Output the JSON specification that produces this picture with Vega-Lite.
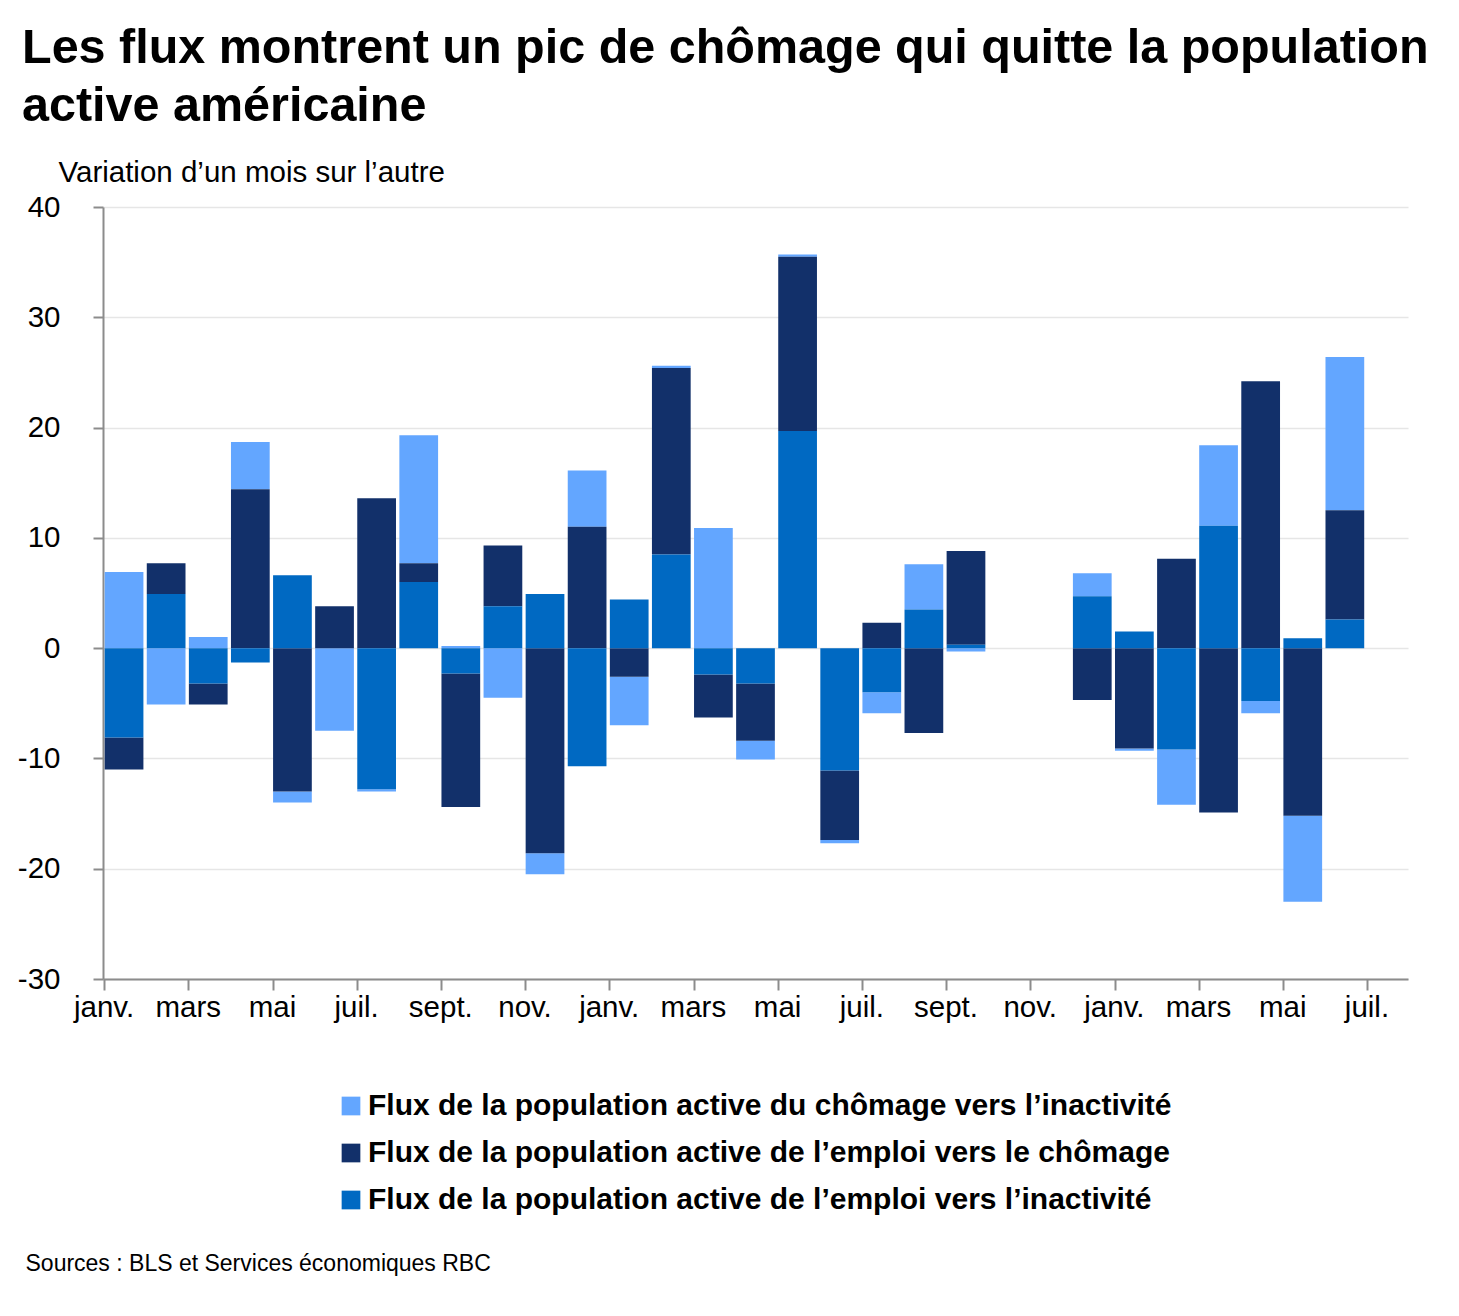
{
  "$schema": "https://vega.github.io/schema/vega-lite/v6.json",
  "autosize": {"type": "none"},
  "width": 1305,
  "height": 772,
  "padding": {"left": 103, "top": 207, "right": 51, "bottom": 337},
  "background": "white",
  "config": {
    "font": "Liberation Sans",
    "view": {"stroke": null}
  },
  "title": {
    "text": ["Les flux montrent un pic de chômage qui quitte la population", "active américaine"],
    "anchor": "start",
    "frame": "group",
    "baseline": "alphabetic",
    "dx": -81,
    "dy": 32,
    "offset": 20,
    "fontSize": 48.5,
    "fontWeight": "bold",
    "lineHeight": 58,
    "color": "black"
  },
  "data": {
    "values": [
      {"mois": 1, "chomage_inactivite": 6.9, "emploi_chomage": -2.9, "emploi_inactivite": -8.1},
      {"mois": 2, "chomage_inactivite": -5.1, "emploi_chomage": 2.8, "emploi_inactivite": 4.9},
      {"mois": 3, "chomage_inactivite": 1.0, "emploi_chomage": -1.9, "emploi_inactivite": -3.2},
      {"mois": 4, "chomage_inactivite": 4.3, "emploi_chomage": 14.4, "emploi_inactivite": -1.3},
      {"mois": 5, "chomage_inactivite": -1.0, "emploi_chomage": -13.0, "emploi_inactivite": 6.6},
      {"mois": 6, "chomage_inactivite": -7.5, "emploi_chomage": 3.8, "emploi_inactivite": 0},
      {"mois": 7, "chomage_inactivite": -0.2, "emploi_chomage": 13.6, "emploi_inactivite": -12.8},
      {"mois": 8, "chomage_inactivite": 11.6, "emploi_chomage": 1.7, "emploi_inactivite": 6.0},
      {"mois": 9, "chomage_inactivite": 0.2, "emploi_chomage": -12.1, "emploi_inactivite": -2.3},
      {"mois": 10, "chomage_inactivite": -4.5, "emploi_chomage": 5.5, "emploi_inactivite": 3.8},
      {"mois": 11, "chomage_inactivite": -1.9, "emploi_chomage": -18.6, "emploi_inactivite": 4.9},
      {"mois": 12, "chomage_inactivite": 5.1, "emploi_chomage": 11.0, "emploi_inactivite": -10.7},
      {"mois": 13, "chomage_inactivite": -4.4, "emploi_chomage": -2.6, "emploi_inactivite": 4.4},
      {"mois": 14, "chomage_inactivite": 0.2, "emploi_chomage": 16.9, "emploi_inactivite": 8.5},
      {"mois": 15, "chomage_inactivite": 10.9, "emploi_chomage": -3.9, "emploi_inactivite": -2.4},
      {"mois": 16, "chomage_inactivite": -1.7, "emploi_chomage": -5.2, "emploi_inactivite": -3.2},
      {"mois": 17, "chomage_inactivite": 0.2, "emploi_chomage": 15.8, "emploi_inactivite": 19.7},
      {"mois": 18, "chomage_inactivite": -0.3, "emploi_chomage": -6.3, "emploi_inactivite": -11.1},
      {"mois": 19, "chomage_inactivite": -1.9, "emploi_chomage": 2.3, "emploi_inactivite": -4.0},
      {"mois": 20, "chomage_inactivite": 4.1, "emploi_chomage": -7.7, "emploi_inactivite": 3.5},
      {"mois": 21, "chomage_inactivite": -0.3, "emploi_chomage": 8.5, "emploi_inactivite": 0.3},
      {"mois": 24, "chomage_inactivite": 2.1, "emploi_chomage": -4.7, "emploi_inactivite": 4.7},
      {"mois": 25, "chomage_inactivite": -0.2, "emploi_chomage": -9.1, "emploi_inactivite": 1.5},
      {"mois": 26, "chomage_inactivite": -5.0, "emploi_chomage": 8.1, "emploi_inactivite": -9.2},
      {"mois": 27, "chomage_inactivite": 7.3, "emploi_chomage": -14.9, "emploi_inactivite": 11.1},
      {"mois": 28, "chomage_inactivite": -1.1, "emploi_chomage": 24.2, "emploi_inactivite": -4.8},
      {"mois": 29, "chomage_inactivite": -7.8, "emploi_chomage": -15.2, "emploi_inactivite": 0.9},
      {"mois": 30, "chomage_inactivite": 13.9, "emploi_chomage": 9.9, "emploi_inactivite": 2.6}
    ]
  },
  "transform": [
    {"fold": ["chomage_inactivite", "emploi_chomage", "emploi_inactivite"], "as": ["flux", "valeur"]}
  ],
  "mark": {"type": "bar"},
  "encoding": {
    "x": {
      "field": "mois",
      "type": "ordinal",
      "scale": {
        "domain": [1, 2, 3, 4, 5, 6, 7, 8, 9, 10, 11, 12, 13, 14, 15, 16, 17, 18, 19, 20, 21, 22, 23, 24, 25, 26, 27, 28, 29, 30, 31],
        "paddingInner": 0.08,
        "paddingOuter": 0.04
      },
      "axis": {
        "values": [1, 3, 5, 7, 9, 11, 13, 15, 17, 19, 21, 23, 25, 27, 29, 31],
        "labelExpr": "['janv.', 'mars', 'mai', 'juil.', 'sept.', 'nov.'][((datum.value - 1) % 12) / 2]",
        "bandPosition": 0,
        "labelOffset": -20,
        "labelAngle": 0,
        "labelFontSize": 29.5,
        "labelColor": "black",
        "labelPadding": 3,
        "tickSize": 11,
        "tickColor": "#8c8c8c",
        "tickWidth": 2,
        "domainColor": "#8c8c8c",
        "domainWidth": 2,
        "grid": false,
        "title": "Sources : BLS et Services économiques RBC",
        "titleX": -78,
        "titleY": 291,
        "titleAlign": "left",
        "titleBaseline": "alphabetic",
        "titleFontSize": 23,
        "titleFontWeight": "normal",
        "titleColor": "black"
      }
    },
    "y": {
      "field": "valeur",
      "type": "quantitative",
      "stack": "zero",
      "scale": {"domain": [-30, 40], "nice": false},
      "axis": {
        "values": [-30, -20, -10, 0, 10, 20, 30, 40],
        "labelExpr": "'' + datum.value",
        "labelFontSize": 29.5,
        "labelColor": "black",
        "labelPadding": 33,
        "labelFlush": false,
        "labelOverlap": false,
        "tickSize": 10,
        "tickColor": "#8c8c8c",
        "tickWidth": 2,
        "domainColor": "#8c8c8c",
        "domainWidth": 2,
        "grid": true,
        "gridColor": "#e6e6e6",
        "gridWidth": 1.5,
        "title": "Variation d’un mois sur l’autre",
        "titleAngle": 0,
        "titleAlign": "left",
        "titleBaseline": "alphabetic",
        "titleX": -45,
        "titleY": -26,
        "titleFontSize": 29.5,
        "titleFontWeight": "normal",
        "titleColor": "black"
      }
    },
    "color": {
      "field": "flux",
      "type": "nominal",
      "scale": {
        "domain": ["chomage_inactivite", "emploi_chomage", "emploi_inactivite"],
        "range": ["#63a6ff", "#12306a", "#0069c2"]
      },
      "legend": {
        "orient": "none",
        "legendX": 233,
        "legendY": 884,
        "direction": "vertical",
        "title": null,
        "padding": 0,
        "symbolType": "square",
        "symbolSize": 350,
        "symbolStrokeWidth": 0,
        "symbolOpacity": 1,
        "labelFontSize": 30,
        "labelFontWeight": "bold",
        "labelColor": "black",
        "labelOffset": 2,
        "labelLimit": 0,
        "rowPadding": 17,
        "labelExpr": "datum.value == 'chomage_inactivite' ? 'Flux de la population active du chômage vers l’inactivité' : datum.value == 'emploi_chomage' ? 'Flux de la population active de l’emploi vers le chômage' : 'Flux de la population active de l’emploi vers l’inactivité'"
      }
    },
    "order": {"field": "flux", "sort": "descending"}
  }
}
